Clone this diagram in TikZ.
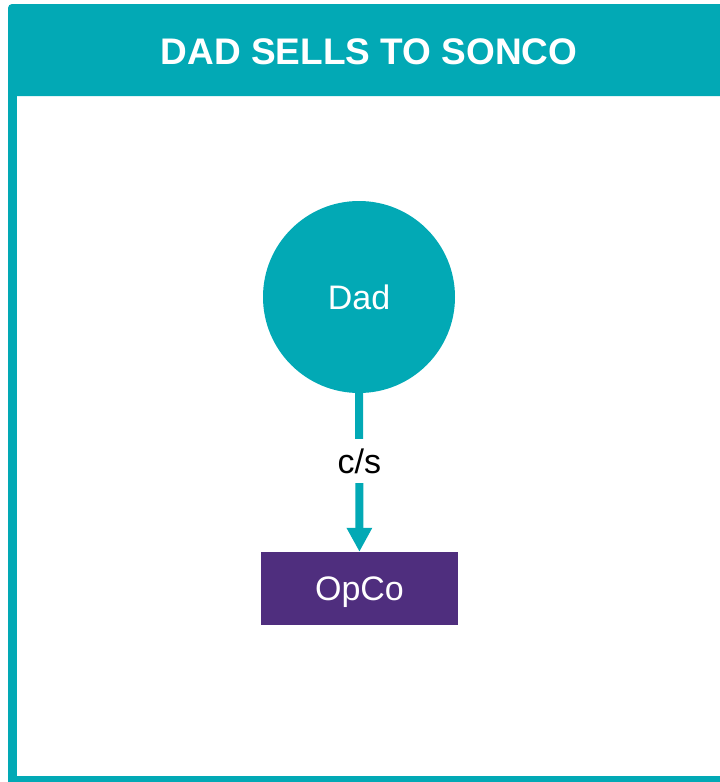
\documentclass[tikz,border=0pt]{standalone}
\usepackage{fontspec}
\setmainfont{Liberation Sans}
\usetikzlibrary{arrows.meta}
\definecolor{dealteal}{HTML}{02A9B5}
\definecolor{dealpurple}{HTML}{4F2E7E}

\begin{document}
\begin{tikzpicture}[x=1pt,y=-1pt,
    party/.style={circle,fill=dealteal,text=white,minimum size=192pt,inner sep=0pt,
      text depth=0pt,font=\fontsize{34}{40}\selectfont},
    company/.style={fill=dealpurple,text=white,minimum width=197pt,minimum height=73pt,
      inner sep=0pt,text depth=0pt,font=\fontsize{34}{40}\selectfont},
    flow/.style={line width=8pt,dealteal,-{Triangle[length=24pt,width=24pt]}},
    flowlabel/.style={fill=white,text=black,minimum height=44pt,inner sep=0pt,
      font=\fontsize{34}{40}\selectfont}]
    \useasboundingbox (0,0) rectangle (720,782);
    \clip (0,0) rectangle (720,782);

    % frame and header
    \draw[line width=9pt,dealteal] (12.5,40) -- (12.5,780.5) -- (760,780.5);
    \fill[dealteal,rounded corners=4pt] (8,4) rectangle (760,96);
    \node[text=white,font=\bfseries\fontsize{37}{44}\selectfont] (title) at (369,52) {DAD SELLS TO SONCO};

    \node[party] (dad) at (359,297) {Dad};
    \node[company] (opco) at (359.5,588.5) {OpCo};

    \draw[flow] (dad) -- (opco) node[flowlabel,pos=0.43] (cs) {c/s};
\end{tikzpicture}
\end{document}
